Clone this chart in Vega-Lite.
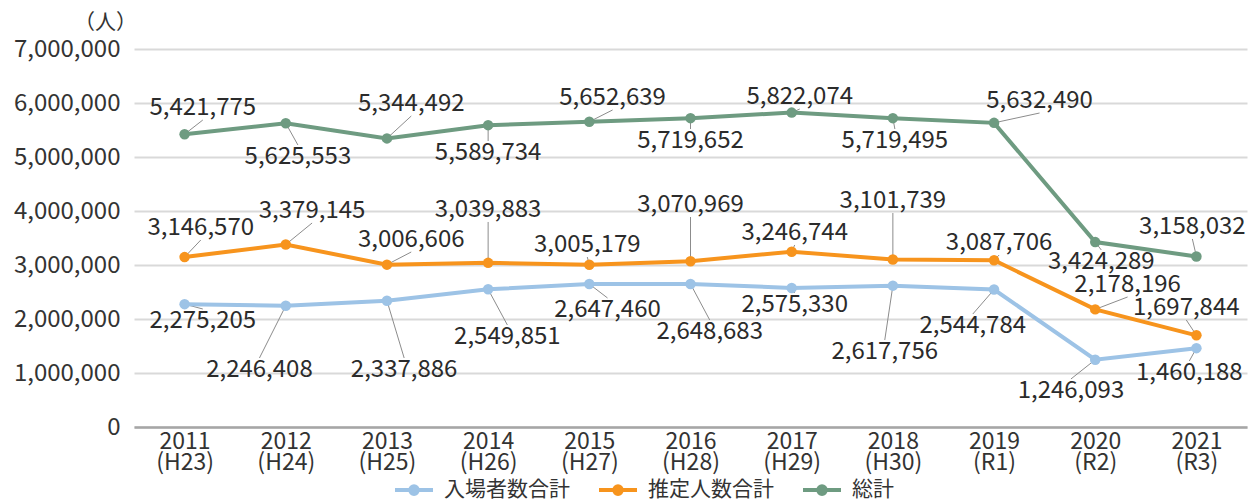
{
  "$schema": "https://vega.github.io/schema/vega-lite/v6.json",
  "width": 1113,
  "height": 378,
  "autosize": {"type": "none"},
  "padding": {"left": 134, "top": 49, "right": 5, "bottom": 72},
  "background": "white",
  "config": {
    "font": "Noto Sans CJK JP",
    "view": {"stroke": null},
    "axis": {"labelFont": "Noto Sans CJK JP", "labelColor": "#333333", "titleColor": "#333333"}
  },
  "data": {
    "values": [
      {"year": 2011, "series": "入場者数合計", "value": 2275205, "lx": 2011.18, "ly": 1963000},
      {"year": 2012, "series": "入場者数合計", "value": 2246408, "lx": 2011.74, "ly": 1056000},
      {"year": 2013, "series": "入場者数合計", "value": 2337886, "lx": 2013.17, "ly": 1056000},
      {"year": 2014, "series": "入場者数合計", "value": 2549851, "lx": 2014.19, "ly": 1667000},
      {"year": 2015, "series": "入場者数合計", "value": 2647460, "lx": 2015.18, "ly": 2167000},
      {"year": 2016, "series": "入場者数合計", "value": 2648683, "lx": 2016.19, "ly": 1759000},
      {"year": 2017, "series": "入場者数合計", "value": 2575330, "lx": 2017.03, "ly": 2259000},
      {"year": 2018, "series": "入場者数合計", "value": 2617756, "lx": 2017.92, "ly": 1389000},
      {"year": 2019, "series": "入場者数合計", "value": 2544784, "lx": 2018.79, "ly": 1870000},
      {"year": 2020, "series": "入場者数合計", "value": 1246093, "lx": 2019.76, "ly": 667000},
      {"year": 2021, "series": "入場者数合計", "value": 1460188, "lx": 2020.93, "ly": 1000000},
      {"year": 2011, "series": "推定人数合計", "value": 3146570, "lx": 2011.16, "ly": 3685000},
      {"year": 2012, "series": "推定人数合計", "value": 3379145, "lx": 2012.26, "ly": 4000000},
      {"year": 2013, "series": "推定人数合計", "value": 3006606, "lx": 2013.24, "ly": 3463000},
      {"year": 2014, "series": "推定人数合計", "value": 3039883, "lx": 2014.0, "ly": 4019000},
      {"year": 2015, "series": "推定人数合計", "value": 3005179, "lx": 2014.98, "ly": 3370000},
      {"year": 2016, "series": "推定人数合計", "value": 3070969, "lx": 2016.0, "ly": 4111000},
      {"year": 2017, "series": "推定人数合計", "value": 3246744, "lx": 2017.03, "ly": 3593000},
      {"year": 2018, "series": "推定人数合計", "value": 3101739, "lx": 2018.0, "ly": 4185000},
      {"year": 2019, "series": "推定人数合計", "value": 3087706, "lx": 2019.05, "ly": 3407000},
      {"year": 2020, "series": "推定人数合計", "value": 2178196, "lx": 2020.32, "ly": 2630000},
      {"year": 2021, "series": "推定人数合計", "value": 1697844, "lx": 2020.9, "ly": 2204000},
      {"year": 2011, "series": "総計", "value": 5421775, "lx": 2011.18, "ly": 5907000},
      {"year": 2012, "series": "総計", "value": 5625553, "lx": 2012.12, "ly": 5000000},
      {"year": 2013, "series": "総計", "value": 5344492, "lx": 2013.24, "ly": 5981000},
      {"year": 2014, "series": "総計", "value": 5589734, "lx": 2014.0, "ly": 5074000},
      {"year": 2015, "series": "総計", "value": 5652639, "lx": 2015.23, "ly": 6093000},
      {"year": 2016, "series": "総計", "value": 5719652, "lx": 2016.0, "ly": 5296000},
      {"year": 2017, "series": "総計", "value": 5822074, "lx": 2017.08, "ly": 6111000},
      {"year": 2018, "series": "総計", "value": 5719495, "lx": 2018.02, "ly": 5296000},
      {"year": 2019, "series": "総計", "value": 5632490, "lx": 2019.45, "ly": 6037000},
      {"year": 2020, "series": "総計", "value": 3424289, "lx": 2020.06, "ly": 3056000},
      {"year": 2021, "series": "総計", "value": 3158032, "lx": 2020.96, "ly": 3704000}
    ]
  },
  "encoding": {
    "x": {
      "field": "year",
      "type": "quantitative",
      "scale": {"domain": [2010.5, 2021.5], "nice": false, "zero": false},
      "axis": {
        "values": [2011, 2012, 2013, 2014, 2015, 2016, 2017, 2018, 2019, 2020, 2021],
        "format": "d",
        "labelExpr": "[datum.label, datum.value <= 2018 ? '(H' + (datum.value - 1988) + ')' : '(R' + (datum.value - 2018) + ')']",
        "title": null,
        "grid": false,
        "ticks": false,
        "domain": true,
        "domainColor": "#a6a6a6",
        "domainWidth": 2.5,
        "labelFontSize": 23,
        "labelLineHeight": 21,
        "labelPadding": 3,
        "labelColor": "#333333"
      }
    },
    "y": {
      "field": "value",
      "type": "quantitative",
      "scale": {"domain": [0, 7000000], "nice": false},
      "axis": {
        "values": [0, 1000000, 2000000, 3000000, 4000000, 5000000, 6000000, 7000000],
        "format": ",d",
        "title": "（人）",
        "titleAngle": 0,
        "titleX": -29,
        "titleY": -27,
        "titleAlign": "center",
        "titleBaseline": "middle",
        "titleFontSize": 21,
        "titleFontWeight": "normal",
        "grid": true,
        "gridColor": "#d9d9d9",
        "gridWidth": 2,
        "ticks": false,
        "domain": false,
        "labelFontSize": 24,
        "labelPadding": 14,
        "labelColor": "#333333"
      }
    }
  },
  "layer": [
    {
      "transform": [{"filter": "datum.ly > datum.value"}],
      "mark": {"type": "rule", "color": "#8c8c8c", "strokeWidth": 1, "y2Offset": 12},
      "encoding": {
        "x2": {"field": "lx"},
        "y2": {"field": "ly"}
      }
    },
    {
      "transform": [{"filter": "datum.ly < datum.value"}],
      "mark": {"type": "rule", "color": "#8c8c8c", "strokeWidth": 1, "y2Offset": -12},
      "encoding": {
        "x2": {"field": "lx"},
        "y2": {"field": "ly"}
      }
    },
    {
      "mark": {"type": "line", "strokeWidth": 4},
      "encoding": {
        "color": {
          "field": "series",
          "type": "nominal",
          "scale": {"domain": ["入場者数合計", "推定人数合計", "総計"], "range": ["#9DC3E6", "#F7941D", "#6E9B81"]},
          "legend": {
            "title": null,
            "orient": "none",
            "direction": "horizontal",
            "legendX": 259,
            "legendY": 420,
            "labelFontSize": 21,
            "labelColor": "#333333",
            "labelOffset": 9,
            "columnPadding": 21,
            "symbolType": "M-1,0L1,0M0.2,0A0.2,0.2,0,1,1,-0.2,0A0.2,0.2,0,1,1,0.2,0Z",
            "symbolSize": 1444,
            "symbolStrokeWidth": 4,
            "encode": {
              "symbols": {
                "update": {
                  "fill": {"scale": "color", "field": "value"},
                  "stroke": {"scale": "color", "field": "value"},
                  "opacity": {"value": 1}
                }
              }
            }
          }
        }
      }
    },
    {
      "mark": {"type": "point", "filled": true, "size": 110, "opacity": 1},
      "encoding": {
        "color": {"field": "series", "type": "nominal"}
      }
    },
    {
      "mark": {"type": "text", "fontSize": 24, "color": "#2b2b2b", "align": "center", "baseline": "middle"},
      "encoding": {
        "x": {"field": "lx", "type": "quantitative"},
        "y": {"field": "ly", "type": "quantitative"},
        "text": {"field": "value", "type": "quantitative", "format": ",d"}
      }
    }
  ]
}
